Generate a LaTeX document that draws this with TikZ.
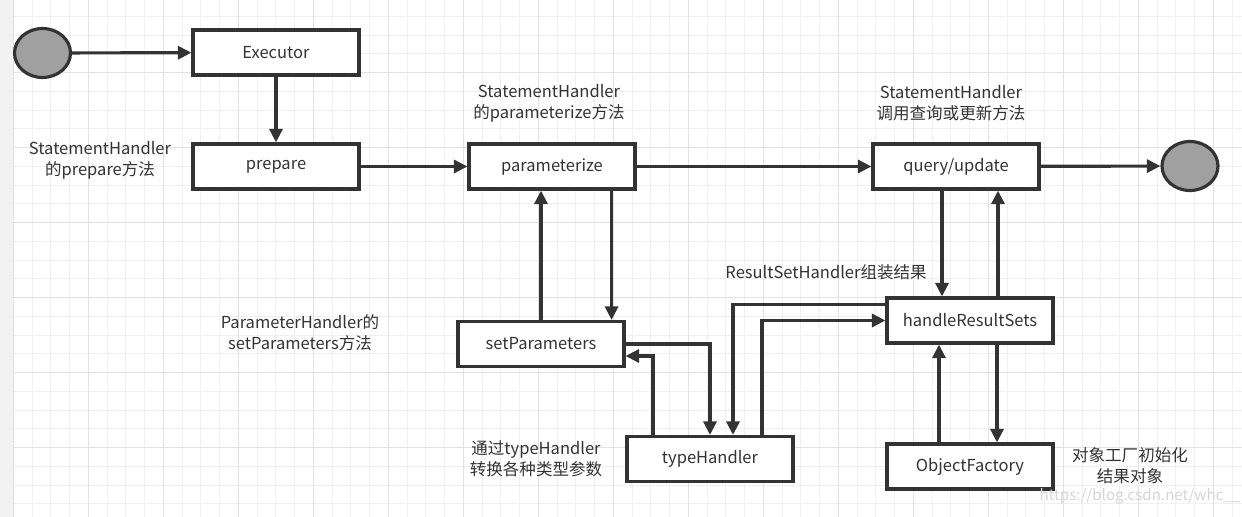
\documentclass[tikz,border=0pt]{standalone}
\usepackage{fontspec}
\setmainfont{Noto Sans CJK SC}
\usepackage{tikz}
\usetikzlibrary{arrows.meta,shapes.geometric}
\definecolor{inkgray}{RGB}{51, 51, 51}
\definecolor{gridminor}{RGB}{240, 240, 240}
\definecolor{gridmajor}{RGB}{226, 226, 226}
\definecolor{stripgray}{RGB}{242, 242, 242}
\definecolor{dotgray}{RGB}{160, 160, 160}

\begin{document}
\begin{tikzpicture}[x=0.02cm,y=-0.02cm,
    stepbox/.style={draw=inkgray, line width=1.8pt, fill=white, minimum width=3.32cm, minimum height=0.9cm, inner sep=0pt, text=inkgray},
    endpoint/.style={ellipse, draw=inkgray, line width=1.8pt, fill=dotgray, minimum width=1.12cm, minimum height=0.98cm, inner sep=0pt},
    note/.style={align=center, text=inkgray, inner sep=0pt},
    arr/.style={draw=inkgray, line width=1.8pt, -{Triangle[length=0.27cm,width=0.26cm]}}]
        \fontsize{9.4}{12}\selectfont
        \useasboundingbox (0,0) rectangle (1242,517);

        % Background grid
        \fill[white] (0,0) rectangle (1242,517);
        \fill[stripgray] (0,0) rectangle (13.3,517);
        \foreach \x in {13.3,32.05,...,1242}
            \draw[gridminor, line width=0.6pt] (\x,0) -- (\x,517);
        \foreach \y in {-2.3,16.45,...,517}
            \draw[gridminor, line width=0.6pt] (13.3,\y) -- (1242,\y);
        \foreach \x in {13.3,88.3,...,1242}
            \draw[gridmajor, line width=0.6pt] (\x,0) -- (\x,517);
        \foreach \y in {72.7,147.7,...,517}
            \draw[gridmajor, line width=0.6pt] (13.3,\y) -- (1242,\y);

        % Start and end
        \node[endpoint] (start) at (42.5,53) {};
        \node[endpoint] (stop) at (1190,166) {};

        % Main flow
        \node[stepbox] (exec) at (276,52.5) {Executor};
        \node[stepbox] (prep) at (276,166.5) {prepare};
        \node[stepbox] (param) at (552,166.5) {parameterize};
        \node[stepbox] (query) at (956,166.5) {query/update};

        % Parameter handling
        \node[stepbox] (setp) at (541,344) {setParameters};
        \node[stepbox] (typeh) at (710,459) {typeHandler};

        % Result handling
        \node[stepbox] (handle) at (970,320.5) {handleResultSets};
        \node[stepbox] (objf) at (970,466.5) {ObjectFactory};

        % Notes
        \node[note] (noteprep) at (100,160) {StatementHandler\\的prepare方法};
        \node[note] (noteparam) at (549,103) {StatementHandler\\的parameterize方法};
        \node[note] (notequery) at (951,103) {StatementHandler\\调用查询或更新方法};
        \node[note] (notesetp) at (300,333) {ParameterHandler的\\setParameters方法};
        \node[note] (notetypeh) at (536,459) {通过typeHandler\\转换各种类型参数};
        \node[note] (notehandle) at (826,272) {ResultSetHandler组装结果};
        \node[note] (noteobjf) at (1130,466) {对象工厂初始化\\结果对象};
        \node[note, text=black!16, font=\fontsize{8.6}{10}\selectfont] (mark) at (1140,496) {https://blog.csdn.net/whc\_\_};

        % Connectors
        \draw[arr] (start) -- (exec);
        \draw[arr] (exec) -- (prep);
        \draw[arr] (prep) -- (param);
        \draw[arr] (param) -- (query);
        \draw[arr] (query) -- (stop);
        \draw[arr] (setp.north) -- (setp.north |- param.south);
        \draw[arr] ([xshift=-0.5cm]param.south east) -- ([xshift=-0.5cm]param.south east |- setp.north);
        \draw[arr] (setp.east) -| (typeh.north);
        \draw[arr] ([xshift=-1.14cm]typeh.north) |- ([yshift=-0.24cm]setp.east);
        \draw[arr] ([yshift=0.32cm]handle.west) -| ([xshift=0.46cm]typeh.north);
        \draw[arr] ([xshift=1.04cm]typeh.north) |- (handle.west);
        \draw[arr] ([xshift=-0.28cm]query.south) -- ([xshift=-0.28cm]query.south |- handle.north);
        \draw[arr] ([xshift=0.56cm]handle.north) -- ([xshift=0.56cm]handle.north |- query.south);
        \draw[arr] ([xshift=-0.62cm]objf.north) -- ([xshift=-0.62cm]objf.north |- handle.south);
        \draw[arr] ([xshift=0.54cm]handle.south) -- ([xshift=0.54cm]handle.south |- objf.north);
    \end{tikzpicture}
\end{document}
